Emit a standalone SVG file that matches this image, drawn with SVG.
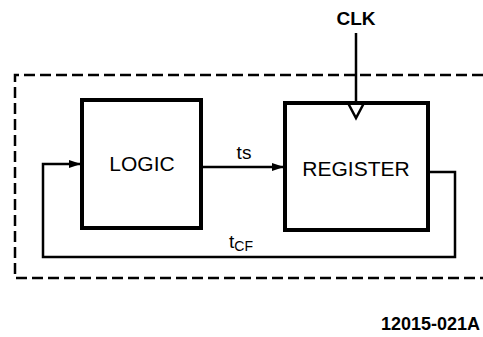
<svg xmlns="http://www.w3.org/2000/svg" width="483" height="337" viewBox="0 0 483 337">
<style>
.box{fill:#fff;stroke:#000;stroke-width:4}
.wire{fill:none;stroke:#000;stroke-width:2.5}
.dash{fill:none;stroke:#000;stroke-width:2.5;stroke-dasharray:11 5}
.lbl{font-family:"Liberation Sans",Arial,sans-serif;fill:#000}
</style>
<defs>
<marker id="arr" markerWidth="12" markerHeight="8" refX="11" refY="4" orient="auto" markerUnits="userSpaceOnUse">
<path d="M0,0 L12,4 L0,8 Z" fill="#000"/>
</marker>
</defs>
<rect width="483" height="337" fill="#fff"/>
<path class="dash" d="M483,75 H15 V278 H483"/>
<g id="connectors">
<line class="wire" x1="356" y1="33" x2="356" y2="103"/>
<line class="wire" x1="203" y1="167" x2="283" y2="167" marker-end="url(#arr)"/>
<path class="wire" d="M430,172 H455 V257 H43 V164 H80" marker-end="url(#arr)"/>
</g>
<g id="logic">
<rect class="box" x="82" y="100" width="119" height="128"/>
<text class="lbl" x="142" y="171" font-size="21" text-anchor="middle">LOGIC</text>
</g>
<g id="register">
<rect class="box" x="285" y="103" width="143" height="127"/>
<path class="wire" d="M348,103 L356,118 L364,103"/>
<text class="lbl" x="356" y="176" font-size="21" text-anchor="middle">REGISTER</text>
</g>
<text class="lbl" x="356" y="25" font-size="19" font-weight="bold" text-anchor="middle">CLK</text>
<text class="lbl" x="244" y="159" font-size="19" text-anchor="middle">ts</text>
<text class="lbl" x="229" y="248" font-size="19">t<tspan font-size="14" dy="3">CF</tspan></text>
<text class="lbl" x="480" y="330" font-size="18" font-weight="bold" text-anchor="end">12015-021A</text>
</svg>
